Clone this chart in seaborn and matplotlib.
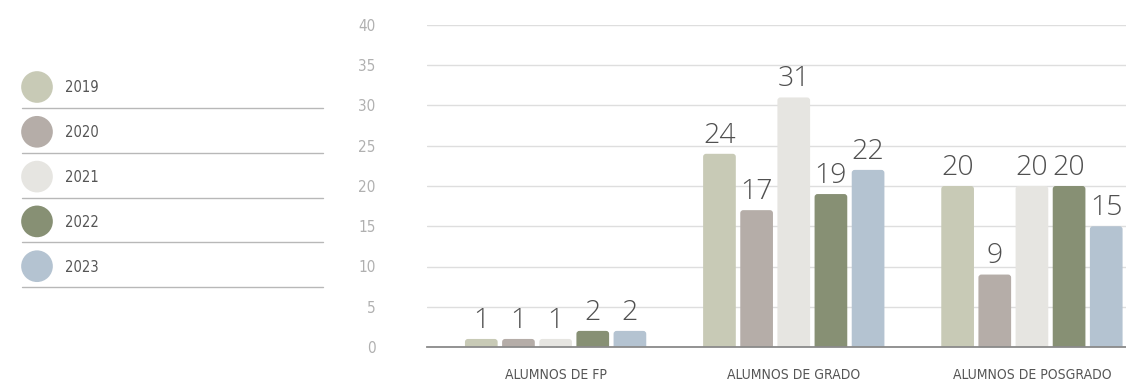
import pandas as pd
import matplotlib.pyplot as plt
import seaborn as sns
from matplotlib.patches import FancyBboxPatch

# Data
categories = ['ALUMNOS DE FP', 'ALUMNOS DE GRADO', 'ALUMNOS DE POSGRADO']
years = ['2019', '2020', '2021', '2022', '2023']
values = {
    '2019': [1, 24, 20],
    '2020': [1, 17, 9],
    '2021': [1, 31, 20],
    '2022': [2, 19, 20],
    '2023': [2, 22, 15],
}
colors = ['#c8cab6', '#b5ada8', '#e6e5e1', '#879074', '#b4c3d1']

rows = []
for y in years:
    for c, v in zip(categories, values[y]):
        rows.append({'Categoria': c, 'Año': y, 'Valor': v})
df = pd.DataFrame(rows)

sns.set_style('white')
plt.rcParams['font.family'] = ['Open Sans', 'DejaVu Sans']

W, H = 1126, 380
fig = plt.figure(figsize=(W / 100, H / 100), dpi=100)
ax = fig.add_axes([427 / W, 1 - 347 / H, 1 - 427 / W, (347 - 25) / H])

sns.barplot(data=df, x='Categoria', y='Valor', hue='Año', palette=colors,
            width=0.78, gap=0.12, ax=ax, legend=False, saturation=1)

for cont in ax.containers:
    ax.bar_label(cont, padding=3, fontsize=20.5, color='#505050', fontweight='light')

ax.set_ylim(0, 40)
ax.set_xlim(-0.54, 2.395)

# rounded tops: swap each bar for a rounded box that starts below the baseline
px_x = 1 / 238.0
px_y = 40 / 322.0
r = 3 * px_x
for p in list(ax.patches):
    x0, w, h = p.get_x(), p.get_width(), p.get_height()
    rb = FancyBboxPatch((x0, -4 * px_y), w, h + 4 * px_y,
                        boxstyle=f'round,pad=0,rounding_size={r}',
                        mutation_aspect=px_y / px_x,
                        facecolor=p.get_facecolor(), edgecolor='none', zorder=2)
    p.set_visible(False)
    ax.add_patch(rb)

ax.set_yticks(range(0, 41, 5))
ax.yaxis.grid(True, color='#dedede', linewidth=1)
ax.set_axisbelow(True)
for s in ['top', 'right', 'left']:
    ax.spines[s].set_visible(False)
ax.spines['bottom'].set_color('#8a8a8a')
ax.spines['bottom'].set_linewidth(1.3)
ax.spines['bottom'].set_zorder(3)
ax.tick_params(axis='y', length=0, pad=37, labelsize=11, labelcolor='#b0b0b0')
ax.tick_params(axis='x', length=0, pad=15, labelsize=10, labelcolor='#555555')
for t in ax.get_xticklabels() + ax.get_yticklabels():
    t.set_family('DejaVu Sans')
    t.set_stretch('condensed')
ax.set_xlabel('')
ax.set_ylabel('')

# Legend drawn by hand in pixel coordinates
lax = fig.add_axes([0, 0, 340 / W, 1])
lax.set_xlim(0, 340)
lax.set_ylim(H, 0)
lax.axis('off')
for i, (y, col) in enumerate(zip(years, colors)):
    cy = 87 + i * 44.8
    lax.scatter([37], [cy], s=520, color=col, edgecolor='none')
    lax.text(65, cy + 1, y, va='center', ha='left', fontsize=10.5, color='#555555',
             family='DejaVu Sans', stretch='condensed')
    lax.plot([22, 323], [cy + 21, cy + 21], color='#b8b8b8', linewidth=1)

fig.savefig('out.png', dpi=100)
